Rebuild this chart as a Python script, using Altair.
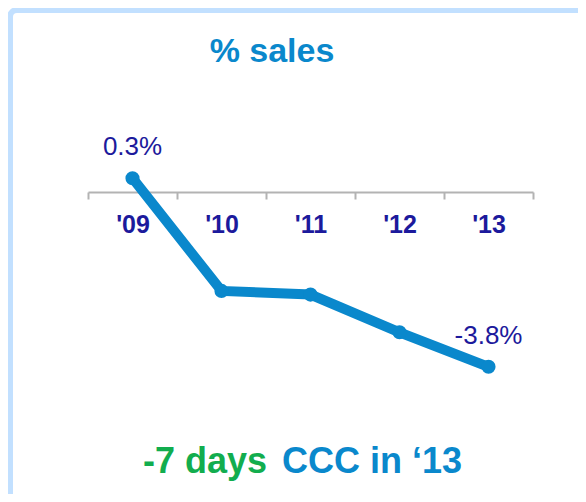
import altair as alt
import pandas as pd

years = ["'09", "'10", "'11", "'12", "'13"]
sales_pct = [0.3, -2.15, -2.23, -3.05, -3.8]
shown_labels = ["0.3%", "", "", "", "-3.8%"]

title_text = "% sales"
footer_green = "-7 days"
footer_blue = "CCC in \u201813"

df = pd.DataFrame({"year": years, "value": sales_pct, "label": shown_labels})
one = pd.DataFrame({"a": [0]})

FONT = "Liberation Sans, Arial, Helvetica, sans-serif"
BLUE = "#0a88cc"
NAVY = "#1c1a9c"
GREEN = "#12ad4e"
GRAY = "#b3b3b3"
BORDER = "#c2e0ff"

x = alt.X(
    "year:N",
    sort=years,
    scale=alt.Scale(type="band", paddingInner=0, paddingOuter=0),
    axis=alt.Axis(
        title=None, orient="bottom", offset=-184, tickBand="extent",
        labelAngle=0, labelFont=FONT, labelFontSize=25, labelFontWeight="bold",
        labelColor=NAVY, labelPadding=13, tickSize=7, tickColor=GRAY,
        tickWidth=2, domainColor=GRAY, domainWidth=2, grid=False,
    ),
)
y = alt.Y("value:Q", scale=alt.Scale(domain=[-4, 0.5], nice=False, zero=False), axis=None)

border = alt.Chart(one).mark_rect(
    fillOpacity=0, stroke=BORDER, strokeWidth=6, cornerRadius=7
).encode(x=alt.value(-78), x2=alt.value(700), y=alt.value(-159), y2=alt.value(700))

line = alt.Chart(df).mark_line(strokeWidth=10, color=BLUE).encode(x=x, y=y)
pts = alt.Chart(df).mark_circle(size=200, color=BLUE, opacity=1).encode(x=x, y=y)
vlabels = alt.Chart(df).mark_text(
    font=FONT, fontSize=26, color=NAVY, baseline="alphabetic", dy=-23
).encode(x=x, y=y, text="label:N")

title = alt.Chart(one).mark_text(
    text=title_text, font=FONT, fontSize=34, fontWeight="bold", color=BLUE,
    baseline="alphabetic", align="center"
).encode(x=alt.value(184), y=alt.value(-107))

foot1 = alt.Chart(one).mark_text(
    text=footer_green, font=FONT, fontSize=36, fontWeight="bold", color=GREEN,
    baseline="alphabetic", align="left"
).encode(x=alt.value(55), y=alt.value(304))
foot2 = alt.Chart(one).mark_text(
    text=footer_blue, font=FONT, fontSize=36, fontWeight="bold", color=BLUE,
    baseline="alphabetic", align="left"
).encode(x=alt.value(194), y=alt.value(304))

chart = alt.layer(border, line, pts, vlabels, title, foot1, foot2).properties(
    width=445, height=207,
    autosize=alt.AutoSizeParams(type="none"),
    padding={"left": 80, "top": 161, "right": 45, "bottom": 118},
    background="white",
).configure_view(strokeWidth=0)

chart.save("out.html", embed_options={"renderer": "svg", "actions": False})
